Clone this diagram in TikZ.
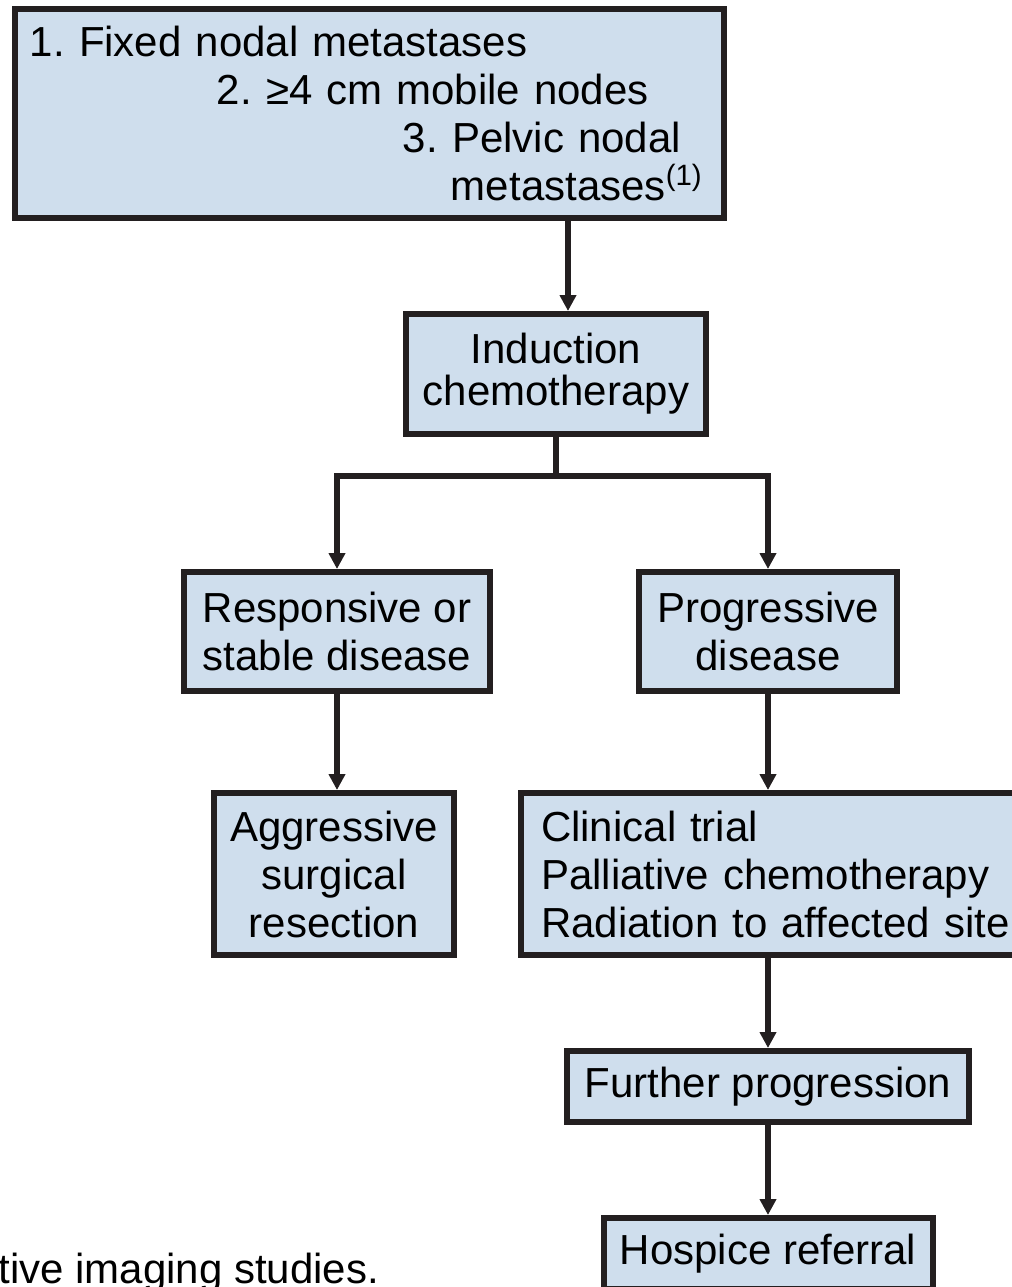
\documentclass[tikz,border=0pt]{standalone}
\usepackage{fontspec}
\setmainfont{Liberation Sans}
\usetikzlibrary{arrows.meta}
\definecolor{boxblue}{RGB}{207,222,237}
\definecolor{inkblack}{RGB}{35,31,32}
\frenchspacing

\begin{document}
\begin{tikzpicture}[x=0.5pt, y=-0.5pt]
	  \tikzstyle{box} = [rectangle, draw=inkblack, fill=boxblue, line width=3pt, inner sep=0pt, align=center, font=\fontsize{21}{24}\selectfont]
	  \tikzstyle{link} = [draw=inkblack, line width=3pt, -{Triangle[length=8pt, width=8pt]}]
	  \useasboundingbox (0,0) rectangle (1012,1287);
	  \clip (0,0) rectangle (1012,1287);
	  \node (nodes)[box, align=left, text width=339.5pt, minimum width=354.5pt, minimum height=104.5pt] at (369.5, 113.5) {1. Fixed nodal metastases\\ \hspace*{93.5pt}2. ≥4 cm mobile nodes\\ \hspace*{186.5pt}3. Pelvic nodal\\ \hspace*{210.5pt}metastases\textsuperscript{(1)}};
	  \node (induct)[box, minimum width=150pt, minimum height=60pt, font=\fontsize{21}{21}\selectfont] at (556, 374) {Induction\\chemotherapy};
	  \node (resp)[box, minimum width=153pt, minimum height=59.5pt] at (337, 631.5) {Responsive or\\stable disease};
	  \node (prog)[box, minimum width=129pt, minimum height=59.5pt] at (768, 631.5) {Progressive\\disease};
	  \node (aggr)[box, minimum width=120pt, minimum height=81pt] at (334, 874) {Aggressive\\surgical\\resection};
	  \node (clin)[box, anchor=west, align=left, text width=240pt, inner xsep=10pt, minimum height=81pt] at (518, 874) {Clinical trial\\Palliative chemotherapy\\Radiation to affected site};
	  \node (further)[box, minimum width=201pt, minimum height=35.5pt] at (768, 1086.5) {Further progression};
	  \node (hospice)[box, minimum width=164.5pt, minimum height=35.5pt] at (768, 1253.5) {Hospice referral};
	  \node (note)[anchor=base west, inner sep=0pt, font=\fontsize{21}{24}\selectfont] at (-2, 1283) {tive imaging studies.};
	  \coordinate (drop) at (568, 0);
	  \coordinate (split) at (556, 476);
	  \draw[link] (nodes.south -| drop) -- (induct.north -| drop);
	  \draw[draw=inkblack, line width=3pt] (induct.south) -- (split);
	  \draw[link] (split) -| (resp.north);
	  \draw[link] (split) -| (prog.north);
	  \draw[link] (resp.south) -- (resp.south |- aggr.north);
	  \draw[link] (prog.south) -- (prog.south |- clin.north);
	  \draw[link] (clin.south -| further.north) -- (further.north);
	  \draw[link] (further.south) -- (hospice.north);
\end{tikzpicture}
\end{document}
